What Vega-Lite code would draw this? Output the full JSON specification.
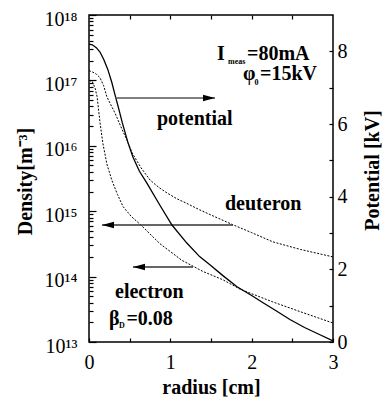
{
  "$schema": "https://vega.github.io/schema/vega-lite/v6.json",
  "width": 244,
  "height": 327,
  "autosize": {"type": "none"},
  "padding": {"left": 89, "top": 15, "right": 50, "bottom": 60},
  "background": "white",
  "config": {
    "font": "Liberation Serif",
    "view": {"stroke": "black", "strokeWidth": 1.5},
    "axis": {
      "labelFont": "Liberation Serif",
      "titleFont": "Liberation Serif",
      "labelFontSize": 20,
      "titleFontSize": 20,
      "titleFontWeight": "bold",
      "labelColor": "black",
      "titleColor": "black",
      "tickColor": "black",
      "tickWidth": 1.2,
      "domain": false,
      "grid": false,
      "labelFlush": false,
      "labelOverlap": false
    }
  },
  "datasets": {
    "density": [
      {"r": 0, "n": 1.41e17, "species": "deuteron"},
      {"r": 0.04, "n": 1.35e17, "species": "deuteron"},
      {"r": 0.09, "n": 1.25e17, "species": "deuteron"},
      {"r": 0.135, "n": 1.1e17, "species": "deuteron"},
      {"r": 0.18, "n": 8.3e16, "species": "deuteron"},
      {"r": 0.22, "n": 5.6e16, "species": "deuteron"},
      {"r": 0.27, "n": 4.2e16, "species": "deuteron"},
      {"r": 0.32, "n": 3.16e16, "species": "deuteron"},
      {"r": 0.41, "n": 1.74e16, "species": "deuteron"},
      {"r": 0.47, "n": 1.2e16, "species": "deuteron"},
      {"r": 0.53, "n": 7.8e15, "species": "deuteron"},
      {"r": 0.64, "n": 4.6e15, "species": "deuteron"},
      {"r": 0.75, "n": 3.0e15, "species": "deuteron"},
      {"r": 0.86, "n": 2.3e15, "species": "deuteron"},
      {"r": 0.96, "n": 1.9e15, "species": "deuteron"},
      {"r": 1.08, "n": 1.55e15, "species": "deuteron"},
      {"r": 1.2, "n": 1.32e15, "species": "deuteron"},
      {"r": 1.36, "n": 1.05e15, "species": "deuteron"},
      {"r": 1.55, "n": 8.2e14, "species": "deuteron"},
      {"r": 1.77, "n": 6.2e14, "species": "deuteron"},
      {"r": 2.0, "n": 4.7e14, "species": "deuteron"},
      {"r": 2.26, "n": 3.4e14, "species": "deuteron"},
      {"r": 2.6, "n": 2.6e14, "species": "deuteron"},
      {"r": 3.0, "n": 2.0e14, "species": "deuteron"},
      {"r": 0, "n": 1.0e17, "species": "electron"},
      {"r": 0.04, "n": 9.6e16, "species": "electron"},
      {"r": 0.075, "n": 7.6e16, "species": "electron"},
      {"r": 0.1, "n": 5.6e16, "species": "electron"},
      {"r": 0.135, "n": 2.3e16, "species": "electron"},
      {"r": 0.17, "n": 1.1e16, "species": "electron"},
      {"r": 0.22, "n": 5.25e15, "species": "electron"},
      {"r": 0.28, "n": 3.0e15, "species": "electron"},
      {"r": 0.35, "n": 1.8e15, "species": "electron"},
      {"r": 0.42, "n": 1.17e15, "species": "electron"},
      {"r": 0.52, "n": 8.3e14, "species": "electron"},
      {"r": 0.635, "n": 6.2e14, "species": "electron"},
      {"r": 0.87, "n": 3.2e14, "species": "electron"},
      {"r": 1.14, "n": 1.78e14, "species": "electron"},
      {"r": 1.4, "n": 1.2e14, "species": "electron"},
      {"r": 1.65, "n": 8.9e13, "species": "electron"},
      {"r": 1.86, "n": 6.4e13, "species": "electron"},
      {"r": 2.26, "n": 4.1e13, "species": "electron"},
      {"r": 2.6, "n": 2.9e13, "species": "electron"},
      {"r": 3.0, "n": 1.95e13, "species": "electron"}
    ],
    "potential": [
      {"r": 0, "V": 8.2},
      {"r": 0.04, "V": 8.18},
      {"r": 0.09, "V": 8.1},
      {"r": 0.135, "V": 7.98},
      {"r": 0.18, "V": 7.78},
      {"r": 0.23, "V": 7.51},
      {"r": 0.28, "V": 7.15},
      {"r": 0.32, "V": 6.8},
      {"r": 0.37, "V": 6.38},
      {"r": 0.41, "V": 6.03},
      {"r": 0.48, "V": 5.48},
      {"r": 0.54, "V": 5.09},
      {"r": 0.62, "V": 4.7},
      {"r": 0.71, "V": 4.38},
      {"r": 0.87, "V": 3.77},
      {"r": 1.02, "V": 3.22},
      {"r": 1.2, "V": 2.73},
      {"r": 1.36, "V": 2.35},
      {"r": 1.49, "V": 2.12},
      {"r": 1.65, "V": 1.82},
      {"r": 1.82, "V": 1.52},
      {"r": 2.0, "V": 1.28},
      {"r": 2.14, "V": 1.08},
      {"r": 2.3, "V": 0.86},
      {"r": 2.47, "V": 0.62},
      {"r": 2.65, "V": 0.4},
      {"r": 2.82, "V": 0.22},
      {"r": 3.0, "V": 0.03}
    ],
    "densityArrows": [
      {"from": 1.771, "tip": 0.16, "n": 6.15e14},
      {"from": 1.279, "tip": 0.541, "n": 1.4e14}
    ],
    "potentialArrow": [
      {"from": 0.32, "tip": 1.549, "V": 6.716}
    ],
    "labels": [
      {"r": 0.836, "n": 2.08e16, "t": "potential"},
      {"r": 1.672, "n": 1.04e15, "t": "deuteron"},
      {"r": 0.32, "n": 4.71e13, "t": "electron"},
      {"r": 1.574, "n": 2.05e17, "t": "I"},
      {"r": 1.943, "n": 2.05e17, "t": "=80mA"},
      {"r": 1.894, "n": 1.01e17, "t": "φ"},
      {"r": 2.103, "n": 1.01e17, "t": "=15kV"},
      {"r": 0.246, "n": 1.82e13, "t": "β"},
      {"r": 0.46, "n": 1.82e13, "t": "=0.08"}
    ],
    "subs": [
      {"r": 1.71, "n": 1.8e17, "t": "meas"},
      {"r": 2.035, "n": 8.5e16, "t": "0"},
      {"r": 0.37, "n": 1.64e13, "t": "D"}
    ]
  },
  "layer": [
    {
      "layer": [
        {
          "data": {"name": "density"},
          "mark": {"type": "line", "color": "black", "strokeWidth": 1, "strokeDash": [2, 1.5]},
          "encoding": {
            "x": {
              "field": "r", "type": "quantitative",
              "scale": {"domain": [0, 3], "nice": false},
              "axis": {
                "orient": "bottom",
                "title": "radius [cm]",
                "values": [0, 0.5, 1, 1.5, 2, 2.5, 3],
                "labelExpr": "datum.value % 1 == 0 ? format(datum.value, 'd') : ''",
                "tickSize": -4,
                "labelPadding": 30,
                "labelBaseline": "alphabetic",
                "titleY": 51,
                "titleBaseline": "alphabetic"
              }
            },
            "y": {
              "field": "n", "type": "quantitative",
              "scale": {"type": "log", "domain": [1e13, 1e18], "nice": false},
              "axis": {
                "orient": "left",
                "title": "Density[m⁻³]",
                "values": [1e13, 2e13, 3e13, 4e13, 5e13, 6e13, 7e13, 8e13, 9e13, 1e14, 2e14, 3e14, 4e14, 5e14, 6e14, 7e14, 8e14, 9e14, 1e15, 2e15, 3e15, 4e15, 5e15, 6e15, 7e15, 8e15, 9e15, 1e16, 2e16, 3e16, 4e16, 5e16, 6e16, 7e16, 8e16, 9e16, 1e17, 2e17, 3e17, 4e17, 5e17, 6e17, 7e17, 8e17, 9e17, 1e18],
                "labelExpr": "abs(log(datum.value)/LN10 - round(log(datum.value)/LN10)) < 0.001 ? '10¹' + ['⁰','¹','²','³','⁴','⁵','⁶','⁷','⁸','⁹'][round(log(datum.value)/LN10) - 10] : ''",
                "tickSize": {"condition": {"test": "abs(log(datum.value)/LN10 - round(log(datum.value)/LN10)) < 0.001", "value": -7}, "value": -4},
                "labelPadding": 19,
                "labelBaseline": "middle",
                "labelOffset": 4,
                "titleAngle": 270,
                "titleX": -64,
                "titleY": 166,
                "titleAlign": "center",
                "titleBaseline": "middle"
              }
            },
            "detail": {"field": "species"}
          }
        },
        {
          "data": {"name": "densityArrows"},
          "mark": {"type": "rule", "color": "#333", "strokeWidth": 1.4},
          "encoding": {
            "x": {"field": "from", "type": "quantitative"},
            "x2": {"field": "tip"},
            "y": {"field": "n", "type": "quantitative"}
          }
        },
        {
          "data": {"name": "densityArrows"},
          "mark": {"type": "point", "shape": "M0,0L2,-0.55L2,0.55Z", "filled": true, "color": "black", "opacity": 1, "size": 144, "strokeWidth": 0},
          "encoding": {
            "x": {"field": "tip", "type": "quantitative"},
            "y": {"field": "n", "type": "quantitative"}
          }
        },
        {
          "data": {"name": "labels"},
          "mark": {"type": "text", "font": "Liberation Serif", "fontSize": 20, "fontWeight": "bold", "align": "left", "baseline": "alphabetic", "color": "black"},
          "encoding": {
            "x": {"field": "r", "type": "quantitative"},
            "y": {"field": "n", "type": "quantitative"},
            "text": {"field": "t"}
          }
        },
        {
          "data": {"name": "subs"},
          "mark": {"type": "text", "font": "Liberation Serif", "fontSize": 8, "fontWeight": "bold", "align": "left", "baseline": "alphabetic", "color": "black"},
          "encoding": {
            "x": {"field": "r", "type": "quantitative"},
            "y": {"field": "n", "type": "quantitative"},
            "text": {"field": "t"}
          }
        }
      ]
    },
    {
      "layer": [
        {
          "data": {"name": "potential"},
          "mark": {"type": "line", "color": "black", "strokeWidth": 1.3},
          "encoding": {
            "x": {
              "field": "r", "type": "quantitative",
              "scale": {"domain": [0, 3], "nice": false},
              "axis": {
                "orient": "top",
                "title": null,
                "labels": false,
                "values": [0.5, 1, 1.5, 2, 2.5],
                "tickSize": -4
              }
            },
            "y": {
              "field": "V", "type": "quantitative",
              "scale": {"domain": [0, 9], "nice": false, "zero": false},
              "axis": {
                "orient": "right",
                "title": "Potential [kV]",
                "values": [0, 1, 2, 3, 4, 5, 6, 7, 8],
                "labelExpr": "datum.value % 2 == 0 ? format(datum.value, 'd') : ''",
                "tickSize": -4,
                "labelPadding": 8,
                "labelAlign": "left",
                "labelBaseline": "middle",
                "titleAngle": 270,
                "titleX": 39,
                "titleY": 155,
                "titleAlign": "center",
                "titleBaseline": "middle"
              }
            }
          }
        },
        {
          "data": {"name": "potentialArrow"},
          "mark": {"type": "rule", "color": "#555", "strokeWidth": 1.4},
          "encoding": {
            "x": {"field": "from", "type": "quantitative"},
            "x2": {"field": "tip"},
            "y": {"field": "V", "type": "quantitative"}
          }
        },
        {
          "data": {"name": "potentialArrow"},
          "mark": {"type": "point", "shape": "M0,0L-2,-0.55L-2,0.55Z", "filled": true, "color": "black", "opacity": 1, "size": 144, "strokeWidth": 0},
          "encoding": {
            "x": {"field": "tip", "type": "quantitative"},
            "y": {"field": "V", "type": "quantitative"}
          }
        }
      ]
    }
  ],
  "resolve": {"scale": {"y": "independent"}, "axis": {"x": "independent", "y": "independent"}}
}
